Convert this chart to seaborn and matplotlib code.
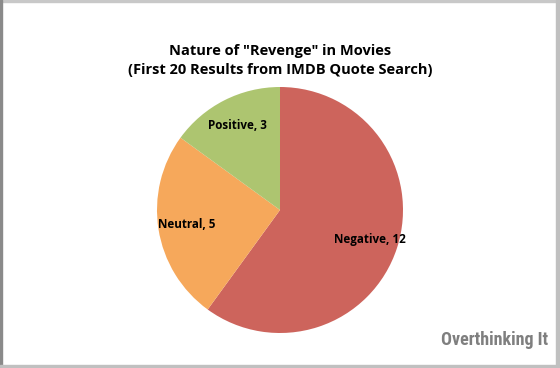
import matplotlib
matplotlib.use("Agg")
import matplotlib.pyplot as plt
import seaborn as sns
from matplotlib.patches import Rectangle

categories = ["Negative", "Neutral", "Positive"]
counts = [12, 5, 3]
colors = ["#CD645C", "#F6A85B", "#ADC570"]
title_lines = ['Nature of "Revenge" in Movies', '(First 20 Results from IMDB Quote Search)']
watermark = "Overthinking It"

sns.set_theme(style="white")
plt.rcParams['font.family'] = ['Open Sans', 'DejaVu Sans']

fig = plt.figure(figsize=(5.6, 3.68), dpi=100)
fig.patch.set_facecolor("white")

W, H = 560, 368
cx, cy, r = 280, 210, 123
ax = fig.add_axes([(cx - r) / W, (H - cy - r) / H, 2 * r / W, 2 * r / H])
labels = [f"{c}, {n}" for c, n in zip(categories, counts)]
ax.pie(counts, labels=labels, colors=colors, startangle=90, counterclock=False,
       radius=1, labeldistance=0.77,
       wedgeprops=dict(linewidth=0),
       textprops=dict(ha="center", va="center", fontsize=8.4, fontweight="bold", color="black"))
ax.set_xlim(-1, 1)
ax.set_ylim(-1, 1)
ax.set_aspect("equal")
ax.axis("off")

fig.text(280 / W, 1 - 60.5 / H, "\n".join(title_lines), ha="center", va="center",
         fontsize=10.5, fontweight="bold", linespacing=1.4, color="black")

fig.text(548 / W, 1 - 340 / H, watermark, ha="right", va="center",
         fontsize=13, fontweight="bold", fontstretch="condensed", color="#7F7F7F",
         family=["Roboto Condensed", "DejaVu Sans Condensed", "Roboto"])

# frame
fig.patches.append(Rectangle((0, 1 - 2 / H), 1, 2 / H, transform=fig.transFigure, color="#C8C8C8", zorder=10))
fig.patches.append(Rectangle((0, 0), 1.5 / W, 1, transform=fig.transFigure, color="#8A8A8A", zorder=10))
fig.patches.append(Rectangle((556 / W, 0), 2.5 / W, 1, transform=fig.transFigure, color="#C0C0C0", zorder=10))
fig.patches.append(Rectangle((0, 1 / H), 558 / W, 2.5 / H, transform=fig.transFigure, color="#C0C0C0", zorder=10))

fig.savefig("out.png", dpi=100)
